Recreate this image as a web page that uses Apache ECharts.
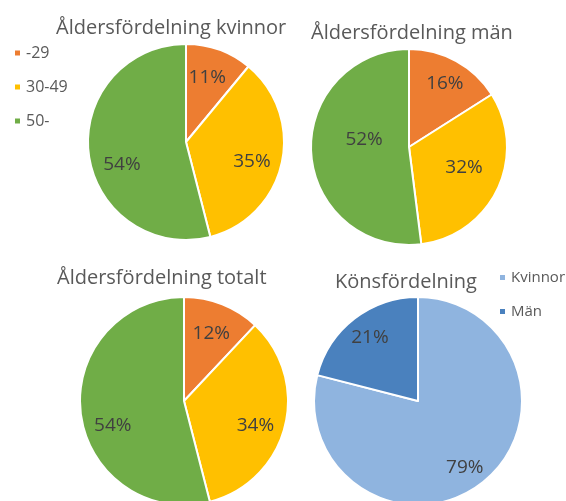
<!DOCTYPE html>
<html><head><meta charset="utf-8">
<script src="https://cdn.jsdelivr.net/npm/echarts@6/dist/echarts.min.js"></script>
<style>html,body{margin:0;padding:0;background:#fff}#c{width:566px;height:501px}</style>
</head><body><div id="c"></div>
<script>
// ---- data ----
var ageCategories = ['-29', '30-49', '50-'];
var ageWomen = [11, 35, 54];
var ageMen = [16, 32, 52];
var ageTotal = [12, 34, 54];
var genderCategories = ['Kvinnor', 'Män'];
var genderValues = [79, 21];
var titles = ['Åldersfördelning kvinnor', 'Åldersfördelning män', 'Åldersfördelning totalt', 'Könsfördelning'];

// ---- style / layout ----
var ageColors = ['#ED7D31', '#FFC000', '#70AD47'];
var genderColors = ['#8FB4DF', '#4A81BE'];
var FONT = 'Open Sans';
var pies = [
  {cats: ageCategories, vals: ageWomen, colors: ageColors, center: [186, 142], r: 98,
   labelR: [0.70, 0.70, 0.69], nudge: [[-3, 3], [-4, 4], [6, 14]]},
  {cats: ageCategories, vals: ageMen, colors: ageColors, center: [409, 147], r: 98,
   labelR: [0.75, 0.59, 0.47], nudge: [[-1, 4], [0, -5], [7, -11]]},
  {cats: ageCategories, vals: ageTotal, colors: ageColors, center: [184, 401], r: 104,
   labelR: [0.71, 0.72, 0.72], nudge: [[-1, 4], [-4, 5], [6, 15]]},
  {cats: genderCategories, vals: genderValues, colors: genderColors, center: [418, 401], r: 104,
   labelR: [0.72, 0.71], nudge: [[-1, 5], [-1, -3]]}
];
var titlePos = [[56, 18], [311, 23], [57, 268], [335, 272]];

var series = [];
pies.forEach(function (p) {
  var data = p.cats.map(function (c, i) {
    return {name: c, value: p.vals[i], itemStyle: {color: p.colors[i]}};
  });
  series.push({
    type: 'pie', center: p.center, radius: [0, p.r], startAngle: 90, clockwise: true,
    animation: false, silent: true,
    itemStyle: {borderColor: '#fff', borderWidth: 2},
    label: {show: false}, labelLine: {show: false},
    data: data
  });
  // label overlays: one transparent ring per slice so each label sits at its own radius
  p.cats.forEach(function (c, k) {
    var lr = p.labelR[k];
    var r0 = Math.max(0, (2 * lr - 1) * p.r);
    var nd = p.nudge[k];
    series.push({
      type: 'pie', center: p.center, radius: [r0, p.r], startAngle: 90, clockwise: true,
      animation: false, silent: true, legendHoverLink: false,
      itemStyle: {color: 'rgba(0,0,0,0)', borderWidth: 0},
      labelLine: {show: false},
      labelLayout: {dx: nd[0], dy: nd[1]},
      data: p.cats.map(function (cc, i) {
        return {name: cc, value: p.vals[i],
          label: {show: i === k, position: 'inside', formatter: '{c}%',
                  color: '#404040', fontSize: 19, fontFamily: FONT}};
      })
    });
  });
});

var option = {
  backgroundColor: '#fff',
  title: titles.map(function (t, i) {
    return {text: t, left: titlePos[i][0], top: titlePos[i][1], padding: 0,
      textStyle: {color: '#595959', fontSize: 20, fontWeight: 'normal', fontFamily: FONT}};
  }),
  legend: [
    {data: ageCategories.map(function (c, i) { return {name: c, itemStyle: {color: ageColors[i]}}; }),
     orient: 'vertical', left: 13, top: 45, icon: 'rect', itemWidth: 7, itemHeight: 7, itemGap: 18,
     selectedMode: false, padding: 0,
     textStyle: {color: '#595959', fontSize: 16, fontFamily: FONT}},
    {data: genderCategories.map(function (c, i) { return {name: c, itemStyle: {color: genderColors[i]}}; }),
     orient: 'vertical', left: 498, top: 270, icon: 'rect', itemWidth: 7, itemHeight: 7, itemGap: 19,
     selectedMode: false, padding: 0,
     textStyle: {color: '#595959', fontSize: 15, fontFamily: FONT}}
  ],
  series: series
};
var chart = echarts.init(document.getElementById('c'), null, {renderer: 'canvas'});
chart.setOption(option);
</script></body></html>
